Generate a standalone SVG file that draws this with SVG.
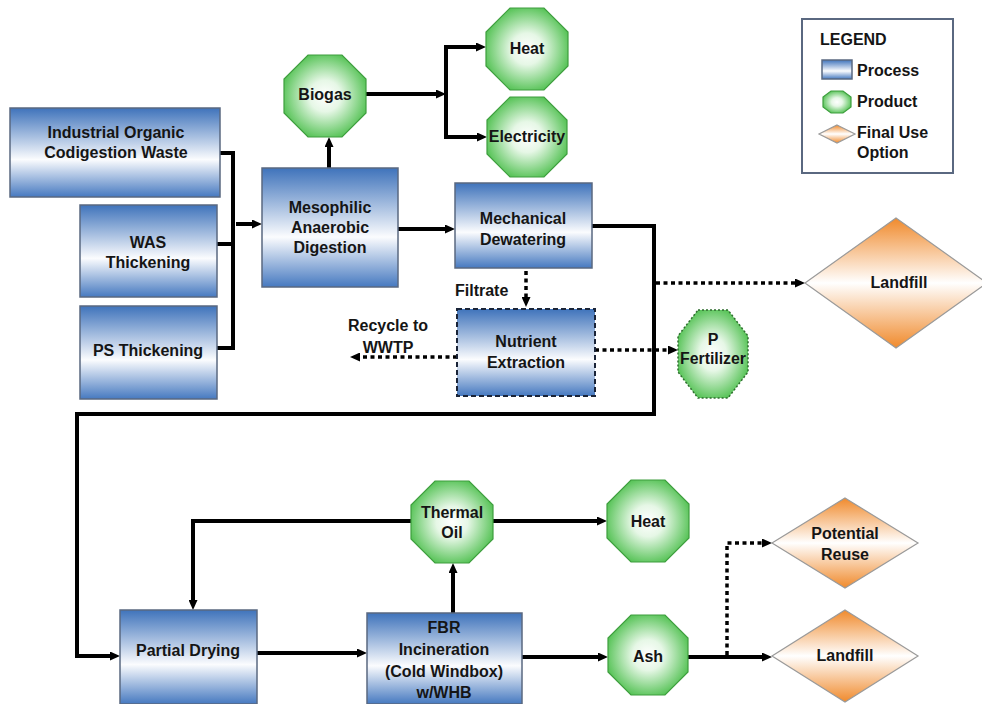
<svg xmlns="http://www.w3.org/2000/svg" width="982" height="704" viewBox="0 0 982 704">
<defs>
<linearGradient id="gProc" x1="0" y1="0" x2="0" y2="1">
<stop offset="0" stop-color="#3f73bb"/>
<stop offset="0.58" stop-color="#fbfcfe"/>
<stop offset="1" stop-color="#4679c0"/>
</linearGradient>
<radialGradient id="gProd" cx="0.5" cy="0.5" r="0.55">
<stop offset="0" stop-color="#ffffff"/>
<stop offset="0.35" stop-color="#e6f7e6"/>
<stop offset="1" stop-color="#4fc04f"/>
</radialGradient>
<linearGradient id="gFinal" x1="0" y1="0" x2="0" y2="1">
<stop offset="0" stop-color="#f08a2c"/>
<stop offset="0.5" stop-color="#ffffff"/>
<stop offset="1" stop-color="#f08a2c"/>
</linearGradient>
<marker id="ah" viewBox="0 0 10 9" markerUnits="userSpaceOnUse" markerWidth="10" markerHeight="9" refX="5" refY="4.5" orient="auto">
<path d="M0,0 L10,4.5 L0,9 z" fill="#000"/>
</marker>
</defs>
<style>
.proc{fill:url(#gProc);stroke:#5a6880;stroke-width:1.5}
.prod{fill:url(#gProd);stroke:#3e9e3e;stroke-width:1.2}
.fin{fill:url(#gFinal);stroke:#9a9a9a;stroke-width:1.2}
.t{font-family:"Liberation Sans",Arial,sans-serif;font-weight:bold;font-size:16px;fill:#151515;text-anchor:middle}
.tl{text-anchor:start}
.ln{fill:none;stroke:#000;stroke-width:4}
.ar{marker-end:url(#ah)}
.dt{fill:none;stroke:#000;stroke-width:3.5;stroke-dasharray:4 3.5}
</style>
<rect width="982" height="704" fill="#fff"/>

<g id="connectors">
<path class="ln" d="M220,153 H233 M217,244 H233 M217,348 H233 M233,151 V350"/>
<path class="ln ar" d="M236,224 H257"/>
<path class="ln ar" d="M329,168 V142"/>
<path class="ln ar" d="M366,94 H441"/>
<path class="ln" d="M446,45 V139"/>
<path class="ln ar" d="M444,47 H481"/>
<path class="ln ar" d="M444,137 H482"/>
<path class="ln ar" d="M398,229 H450"/>
<path class="ln ar" d="M592,226 H654 V414 H77 V656 H115"/>
<path class="dt ar" d="M656,283 H800"/>
<path class="dt ar" d="M526,271 V302"/>
<path class="dt ar" d="M457,357 H355"/>
<path class="dt ar" d="M595,350 H673"/>
<path class="ln ar" d="M257,653 H362"/>
<path class="ln ar" d="M453,613 V568"/>
<path class="ln ar" d="M411,521 H193 V605"/>
<path class="ln ar" d="M493,521 H602"/>
<path class="ln ar" d="M522,657 H603"/>
<path class="ln ar" d="M688,657 H767"/>
<path class="dt ar" d="M727,655 V543 H767"/>
</g>

<g id="industrial">
<rect class="proc" x="10" y="108" width="210" height="89"/>
<text class="t" x="116" y="138">Industrial Organic</text>
<text class="t" x="116" y="158">Codigestion Waste</text>
</g>
<g id="was">
<rect class="proc" x="80" y="205" width="137" height="92"/>
<text class="t" x="148" y="248">WAS</text>
<text class="t" x="148" y="268">Thickening</text>
</g>
<g id="ps">
<rect class="proc" x="80" y="306" width="137" height="93"/>
<text class="t" x="148" y="356">PS Thickening</text>
</g>
<g id="digestion">
<rect class="proc" x="262" y="168" width="136" height="119"/>
<text class="t" x="330" y="213">Mesophilic</text>
<text class="t" x="330" y="233">Anaerobic</text>
<text class="t" x="330" y="253">Digestion</text>
</g>
<g id="biogas">
<polygon class="prod" points="308,55 342,55 366,79 366,113 342,137 308,137 284,113 284,79"/>
<text class="t" x="325" y="100">Biogas</text>
</g>
<g id="heat1">
<polygon class="prod" points="510,8 544,8 568,32 568,66 544,90 510,90 486,66 486,32"/>
<text class="t" x="527" y="54">Heat</text>
</g>
<g id="electricity">
<polygon class="prod" points="510,97 544,97 567,120 567,154 544,177 510,177 487,154 487,120"/>
<text class="t" x="527" y="142">Electricity</text>
</g>
<g id="dewatering">
<rect class="proc" x="455" y="183" width="137" height="85"/>
<text class="t" x="523" y="224">Mechanical</text>
<text class="t" x="523" y="245">Dewatering</text>
</g>
<g id="filtrate">
<text class="t tl" x="455" y="296">Filtrate</text>
</g>
<g id="nutrient">
<rect class="proc" x="457" y="309" width="138" height="87" style="stroke:#1a2438;stroke-width:2;stroke-dasharray:5 3"/>
<text class="t" x="526" y="347">Nutrient</text>
<text class="t" x="526" y="368">Extraction</text>
</g>
<g id="recycle">
<text class="t" x="388" y="331">Recycle to</text>
<text class="t" x="388" y="353">WWTP</text>
</g>
<g id="pfert">
<polygon class="prod" points="698,310 728,310 748,336 748,372 728,398 698,398 678,372 678,336" style="stroke:#2f6e2f;stroke-width:1.5;stroke-dasharray:2 2"/>
<text class="t" x="713" y="345">P</text>
<text class="t" x="713" y="364" textLength="66" lengthAdjust="spacingAndGlyphs">Fertilizer</text>
</g>
<g id="landfill1">
<polygon class="fin" points="896,218 987,283 896,348 805,283"/>
<text class="t" x="899" y="288">Landfill</text>
</g>
<g id="legend">
<rect x="802" y="19" width="151" height="154" fill="#fff" stroke="#5a6880" stroke-width="2"/>
<text class="t tl" x="820" y="45">LEGEND</text>
<rect class="proc" x="822" y="60" width="30" height="19"/>
<text class="t tl" x="857" y="76">Process</text>
<polygon class="prod" points="831,91 843,91 851,97 851,107 843,113 831,113 823,107 823,97"/>
<text class="t tl" x="857" y="107">Product</text>
<polygon class="fin" points="837,125 855,134 837,143 819,134"/>
<text class="t tl" x="857" y="138">Final Use</text>
<text class="t tl" x="857" y="158">Option</text>
</g>
<g id="drying">
<rect class="proc" x="120" y="610" width="137" height="94"/>
<text class="t" x="188" y="656">Partial Drying</text>
</g>
<g id="fbr">
<rect class="proc" x="367" y="613" width="155" height="91"/>
<text class="t" x="444" y="633">FBR</text>
<text class="t" x="444" y="655">Incineration</text>
<text class="t" x="444" y="677">(Cold Windbox)</text>
<text class="t" x="444" y="698">w/WHB</text>
</g>
<g id="thermaloil">
<polygon class="prod" points="435,481 469,481 493,505 493,539 469,563 435,563 411,539 411,505"/>
<text class="t" x="452" y="518">Thermal</text>
<text class="t" x="452" y="538">Oil</text>
</g>
<g id="heat2">
<polygon class="prod" points="631,480 665,480 689,504 689,538 665,562 631,562 607,538 607,504"/>
<text class="t" x="648" y="527">Heat</text>
</g>
<g id="ash">
<polygon class="prod" points="631,615 665,615 688,638 688,672 665,695 631,695 608,672 608,638"/>
<text class="t" x="648" y="662">Ash</text>
</g>
<g id="reuse">
<polygon class="fin" points="845,498 918,543 845,588 772,543"/>
<text class="t" x="845" y="539">Potential</text>
<text class="t" x="845" y="560">Reuse</text>
</g>
<g id="landfill2">
<polygon class="fin" points="845,610 918,656 845,702 772,656"/>
<text class="t" x="845" y="661">Landfill</text>
</g>
</svg>
